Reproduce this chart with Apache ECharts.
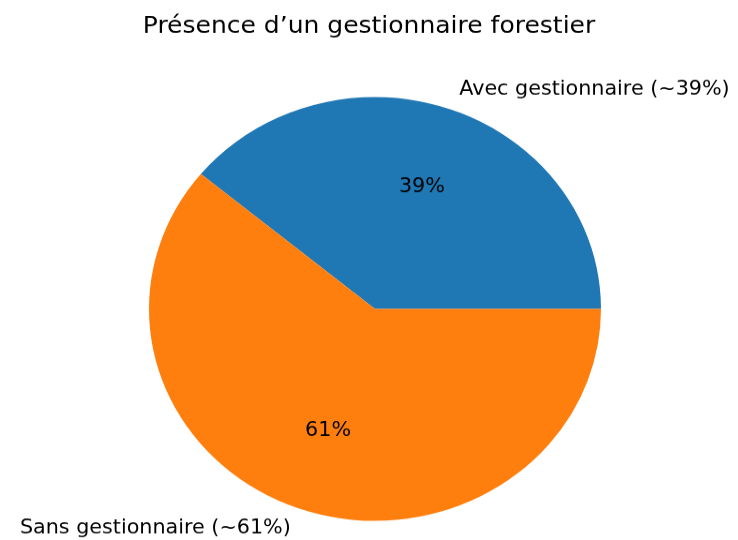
<!DOCTYPE html>
<html>
<head>
<meta charset="utf-8"/>
<style>
    html, body { margin:0; padding:0; width:738px; height:540px; overflow:hidden; background:#fff; }
    /* the reference pie is a bit squashed vertically, so draw taller and scale down */
    #pie { width:738px; height:576px; transform:scaleY(0.9375); transform-origin:0 0; }
</style>
</head>
<body>
<div id="pie"></div>
<script src="https://cdn.jsdelivr.net/npm/echarts@6/dist/echarts.min.js"></script>
<script type="text/javascript">

var titleText = 'Présence d\u2019un gestionnaire forestier';
var categories = ['Avec gestionnaire (~39%)', 'Sans gestionnaire (~61%)'];
var values = [39, 61];
var colors = ['#1f77b4', '#ff7f0e'];

var R = 226;          // pie radius in px
var font = 'DejaVu Sans';

var myPie = echarts.init(document.getElementById('pie'), null, {renderer: 'canvas'});

function pieData(transparent) {
    return categories.map(function (name, i) {
        return {
            name: name,
            value: values[i],
            itemStyle: {color: transparent ? 'rgba(0,0,0,0)' : colors[i]}
        };
    });
}

var pieOptions = {
    animation: false,
    title: {
        text: titleText,
        left: 'center',
        top: 11,
        textStyle: {fontFamily: font, fontSize: 25, fontWeight: 'normal', color: '#000'}
    },
    series: [
        {
            // the wedges, with category labels at 1.1 * radius
            type: 'pie',
            center: [375, 329.6],
            radius: [0, R],
            startAngle: 0,
            clockwise: false,
            avoidLabelOverlap: false,
            silent: true,
            itemStyle: {borderWidth: 0},
            label: {
                show: true,
                position: 'outside',
                alignTo: 'none',
                distanceToLabelLine: 0,
                fontFamily: font,
                fontSize: 20.7,
                color: '#000',
                formatter: '{b}'
            },
            labelLine: {show: false, length: R * 0.1, length2: 0},
            emphasis: {disabled: true},
            data: pieData(false)
        },
        {
            // invisible pie, only for the percentage labels at 0.6 * radius
            type: 'pie',
            center: [375, 329.6],
            radius: [0, R * 1.2],
            startAngle: 0,
            clockwise: false,
            silent: true,
            z: 3,
            itemStyle: {borderWidth: 0},
            label: {
                show: true,
                position: 'inside',
                fontFamily: font,
                fontSize: 20.7,
                color: '#000',
                formatter: function (p) { return p.value.toFixed(0) + '%'; }
            },
            labelLine: {show: false},
            emphasis: {disabled: true},
            data: pieData(true)
        }
    ]
};

myPie.setOption(pieOptions);

</script>
</body>
</html>
